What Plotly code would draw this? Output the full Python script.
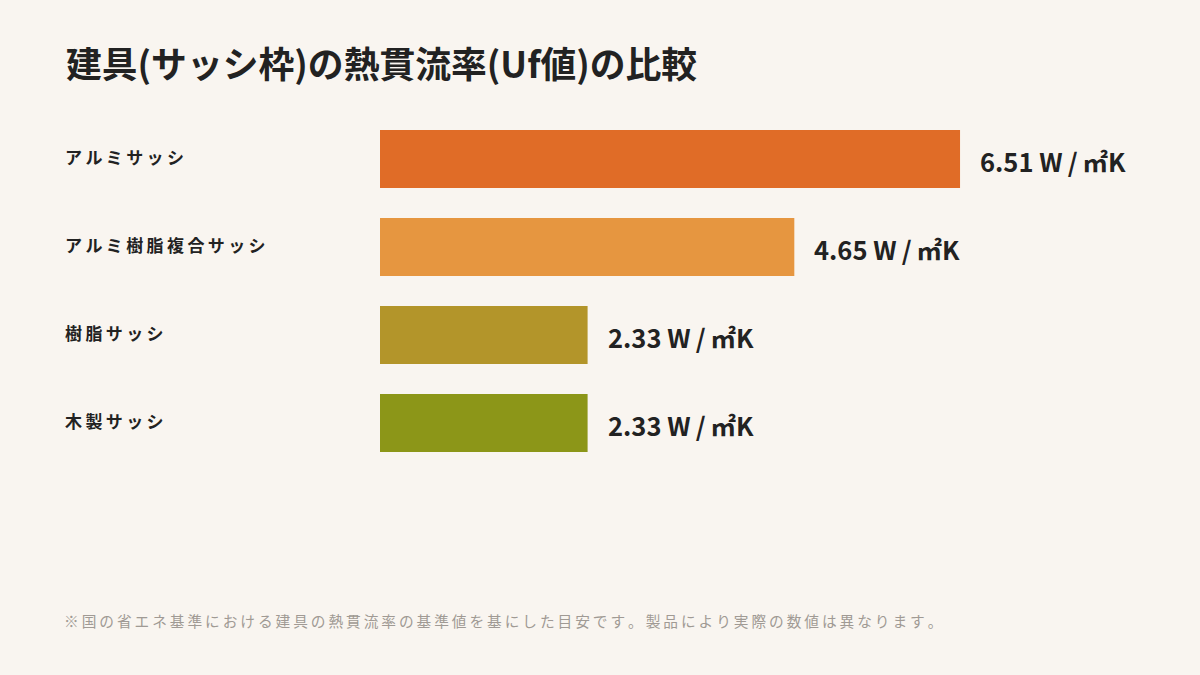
import plotly.graph_objects as go

categories = ["アルミサッシ", "アルミ樹脂複合サッシ", "樹脂サッシ", "木製サッシ"]
values = [6.51, 4.65, 2.33, 2.33]
colors = ["#E06C27", "#E69640", "#B3952A", "#8C9618"]
unit = " W\u2009/\u2009㎡K"
title = "建具(サッシ枠)の熱貫流率(Uf値)の比較"
footnote = "※国の省エネ基準における建具の熱貫流率の基準値を基にした目安です。製品により実際の数値は異なります。"

FONT = "Noto Sans CJK JP"
SP = "\u2009"


def spaced(s):
    return SP.join(list(s))


# plot area: x 380..1180 (800px), y 115..467 (352px)
PL, PW, PT, PH = 380, 800, 115, 352


def px(x):
    return (x - PL) / PW


def py(y):
    return (PT + PH - y) / PH


fig = go.Figure()
fig.add_trace(go.Bar(
    x=values, y=categories, orientation="h",
    marker=dict(color=colors, line=dict(width=0)),
    width=0.66, hoverinfo="skip",
))

for c, v in zip(categories, values):
    fig.add_annotation(x=v, y=c, xref="x", yref="y", text=f"{v:.2f}{unit}",
                       showarrow=False, xanchor="left", xshift=18, yshift=-1,
                       font=dict(family=FONT, size=25.5, color="#222222", weight="bold"))
    fig.add_annotation(x=px(63), y=c, xref="paper", yref="y", text=spaced(c),
                       showarrow=False, xanchor="left", yshift=3,
                       font=dict(family=FONT, size=17, color="#222222", weight="bold"))

fig.add_annotation(x=px(64), y=py(62), xref="paper", yref="paper", text=title,
                   showarrow=False, xanchor="left", yanchor="middle",
                   font=dict(family=FONT, size=35.8, color="#222222", weight="bold"))
fig.add_annotation(x=px(62), y=py(620), xref="paper", yref="paper",
                   text=spaced(footnote), showarrow=False, xanchor="left", yanchor="middle",
                   font=dict(family=FONT, size=14.7, color="#A09A94"))

fig.update_layout(
    width=1200, height=675,
    margin=dict(l=PL, r=1200 - PL - PW, t=PT, b=675 - PT - PH, pad=0),
    paper_bgcolor="#F9F5F0", plot_bgcolor="#F9F5F0",
    showlegend=False,
    xaxis=dict(range=[0, PW / 89.1], visible=False, fixedrange=True),
    yaxis=dict(range=[3.5, -0.5], visible=False, fixedrange=True,
               categoryorder="array", categoryarray=categories),
    font=dict(family=FONT),
)
fig.write_html("out.html", config={"displayModeBar": False},
               post_script="document.body.style.margin='0';document.body.style.background='#F9F5F0';")
